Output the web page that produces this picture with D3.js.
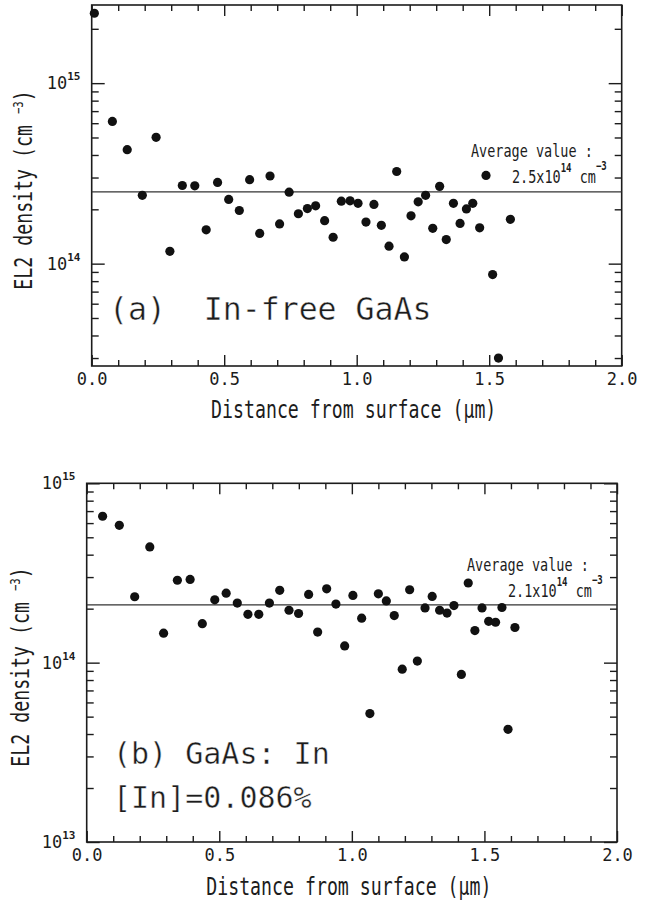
<!DOCTYPE html>
<html>
<head>
<meta charset="utf-8">
<script src="https://cdn.jsdelivr.net/npm/d3@7"></script>
<style>
  body { margin: 0; background: #fff; }
  svg { display: block; }
  text { font-family: "DejaVu Sans Mono", monospace; fill: #1c1c1c; }
</style>
</head>
<body>
<script>
// (a) In-free GaAs : depth (um) / EL2 density (cm-3)
const depthA = [0.01, 0.078, 0.134, 0.191, 0.243, 0.295, 0.342, 0.389, 0.432, 0.475,
  0.517, 0.557, 0.596, 0.634, 0.673, 0.709, 0.745, 0.780, 0.814, 0.845,
  0.879, 0.911, 0.942, 0.975, 1.005, 1.035, 1.065, 1.093, 1.122, 1.151,
  1.180, 1.205, 1.232, 1.260, 1.287, 1.313, 1.338, 1.365, 1.390, 1.414,
  1.438, 1.464, 1.488, 1.513, 1.535, 1.580]
const densityA = [2.44e15, 6.14e14, 4.28e14, 2.39e14, 5.01e14, 1.17e14, 2.71e14, 2.70e14, 1.54e14, 2.82e14,
  2.27e14, 1.97e14, 2.92e14, 1.47e14, 3.06e14, 1.66e14, 2.49e14, 1.89e14, 2.02e14, 2.09e14,
  1.73e14, 1.40e14, 2.22e14, 2.23e14, 2.16e14, 1.70e14, 2.13e14, 1.63e14, 1.25e14, 3.24e14,
  1.09e14, 1.84e14, 2.20e14, 2.39e14, 1.57e14, 2.68e14, 1.36e14, 2.16e14, 1.67e14, 2.01e14,
  2.16e14, 1.58e14, 3.08e14, 8.7e13, 3.0e13, 1.76e14]
const averageA = 2.5e14

// (b) GaAs:In
const depthB = [0.060, 0.123, 0.181, 0.238, 0.290, 0.342, 0.390, 0.436, 0.483, 0.526,
  0.568, 0.608, 0.649, 0.689, 0.728, 0.763, 0.799, 0.837, 0.871, 0.905,
  0.940, 0.973, 1.004, 1.037, 1.068, 1.100, 1.130, 1.160, 1.190, 1.218,
  1.247, 1.276, 1.303, 1.331, 1.359, 1.385, 1.413, 1.439, 1.464, 1.491,
  1.516, 1.542, 1.566, 1.589, 1.615]
const densityB = [6.55e14, 5.83e14, 2.33e14, 4.42e14, 1.46e14, 2.88e14, 2.91e14, 1.65e14, 2.24e14, 2.44e14,
  2.15e14, 1.86e14, 1.86e14, 2.15e14, 2.53e14, 1.96e14, 1.88e14, 2.40e14, 1.48e14, 2.58e14,
  2.12e14, 1.24e14, 2.37e14, 1.77e14, 5.2e13, 2.42e14, 2.21e14, 1.83e14, 9.2e13, 2.55e14,
  1.02e14, 2.02e14, 2.34e14, 1.96e14, 1.89e14, 2.08e14, 8.6e13, 2.78e14, 1.51e14, 2.02e14,
  1.70e14, 1.68e14, 2.03e14, 4.25e13, 1.57e14]
const averageB = 2.1e14

const xTicks = [0, 0.5, 1.0, 1.5, 2.0]
const xTickLabels = ["0.0", "0.5", "1.0", "1.5", "2.0"]
const xTitle = "Distance from surface (\u03bcm)"

const width = 651
const height = 902

const svg = d3.select("body").append("svg")
  .attr("width", width)
  .attr("height", height)

const ink = "#1c1c1c"

function isDecade(v) {
  const l = Math.log10(v)
  return Math.abs(l - Math.round(l)) < 1e-9
}

function drawPanel(p) {
  const x = d3.scaleLinear().domain([0, 2]).range([p.left, p.right])
  const y = d3.scaleLog().domain(p.yDomain).range([p.bottom, p.top])
  const g = svg.append("g")

  const minorX = d3.range(0, 21).map(i => i / 10).filter(v => Math.round(v * 10) % 5 !== 0)
  const allY = y.ticks()
  const minorY = allY.filter(v => !isDecade(v))
  const majorY = allY.filter(isDecade)

  const noDomain = a => a.select(".domain").remove()
  const styleTicks = a => a.selectAll("line").attr("stroke", ink).attr("stroke-width", 1.4)

  // bottom
  g.append("g").attr("transform", `translate(0,${p.bottom})`)
    .call(d3.axisBottom(x).tickValues(minorX).tickSize(-6).tickFormat(""))
    .call(noDomain).call(styleTicks)
  g.append("g").attr("transform", `translate(0,${p.bottom})`)
    .call(d3.axisBottom(x).tickValues(xTicks).tickSize(-11).tickPadding(7)
      .tickFormat((d, i) => xTickLabels[i]))
    .call(noDomain).call(styleTicks)
    .call(a => a.selectAll("text").attr("font-size", 17).attr("fill", ink)
      .attr("font-family", "DejaVu Sans Mono, monospace"))
  // top
  g.append("g").attr("transform", `translate(0,${p.top})`)
    .call(d3.axisTop(x).tickValues(minorX).tickSize(-6).tickFormat(""))
    .call(noDomain).call(styleTicks)
  g.append("g").attr("transform", `translate(0,${p.top})`)
    .call(d3.axisTop(x).tickValues(xTicks).tickSize(-11).tickFormat(""))
    .call(noDomain).call(styleTicks)
  // left / right
  ;[[d3.axisLeft, p.left], [d3.axisRight, p.right]].forEach(([ax, pos]) => {
    g.append("g").attr("transform", `translate(${pos},0)`)
      .call(ax(y).tickValues(minorY).tickSize(-7).tickFormat(""))
      .call(noDomain).call(styleTicks)
    g.append("g").attr("transform", `translate(${pos},0)`)
      .call(ax(y).tickValues(majorY).tickSize(-13).tickFormat(""))
      .call(noDomain).call(styleTicks)
  })

  // frame
  g.append("rect")
    .attr("x", p.left).attr("y", p.top)
    .attr("width", p.right - p.left).attr("height", p.bottom - p.top)
    .attr("fill", "none").attr("stroke", ink).attr("stroke-width", 1.6)

  // decade labels 10^n
  majorY.forEach(v => {
    const t = g.append("text")
      .attr("x", p.left - 45).attr("y", y(v) + 6)
      .attr("font-size", 17)
    t.append("tspan").text("10")
    t.append("tspan").attr("dy", -9).attr("font-size", 11).attr("font-weight", "bold")
      .text(Math.round(Math.log10(v)))
  })

  // average line
  g.append("line")
    .attr("x1", p.left).attr("x2", p.right)
    .attr("y1", y(p.average)).attr("y2", y(p.average))
    .attr("stroke", "#333").attr("stroke-width", 1.3)

  // points
  g.selectAll("circle.pt")
    .data(d3.zip(p.depth, p.density))
    .join("circle")
    .attr("class", "pt")
    .attr("cx", d => x(d[0]))
    .attr("cy", d => y(d[1]))
    .attr("r", 4.6)
    .attr("fill", "#111")

  // average annotation
  g.append("text")
    .attr("transform", `translate(${p.avgX},${p.avgY}) scale(0.75,1)`)
    .attr("font-size", 18)
    .text("Average value :")
  const v = g.append("text")
    .attr("transform", `translate(${p.avgX + 41},${p.avgY + 26}) scale(0.75,1)`)
    .attr("font-size", 18)
  v.append("tspan").text(p.avgText)
  v.append("tspan").attr("dy", -11).attr("font-size", 12).attr("font-weight", "bold").text("14")
  v.append("tspan").attr("dy", 11).text(" cm")
  v.append("tspan").attr("dy", -13).attr("font-size", 12).attr("font-weight", "bold").text("\u22123")

  // axis titles
  g.append("text")
    .attr("transform", `translate(${(p.left + p.right) / 2 - 3},${p.xTitleY}) scale(0.76,1)`)
    .attr("text-anchor", "middle")
    .attr("font-size", 24)
    .text(xTitle)
  const yt = g.append("text")
    .attr("transform", `translate(${p.yTitleX},${p.yTitleY}) rotate(-90) scale(0.76,1)`)
    .attr("text-anchor", "middle")
    .attr("font-size", 24)
  yt.append("tspan").text("EL2 density (cm ")
  yt.append("tspan").attr("dy", -9).attr("font-size", 14).text("\u22123")
  yt.append("tspan").attr("dy", 9).text(")")

  // panel labels
  p.labels.forEach(l => {
    g.append("text")
      .attr("x", l.x).attr("y", l.y)
      .attr("font-size", l.size)
      .attr("fill", "#111")
      .attr("stroke", "#fff").attr("stroke-width", 0.4)
      .style("white-space", "pre")
      .text(l.text)
  })
}

drawPanel({
  left: 91.7, right: 621.7, top: 5, bottom: 366,
  yDomain: [2.71e13, 2.71e15],
  depth: depthA, density: densityA, average: averageA,
  avgX: 471, avgY: 157, avgText: "2.5x10",
  xTitleY: 418, yTitleX: 32, yTitleY: 190,
  labels: [{ x: 109, y: 320, size: 31.5, text: "(a)  In-free GaAs" }]
})

drawPanel({
  left: 86.7, right: 617, top: 483.3, bottom: 842,
  yDomain: [1e13, 1e15],
  depth: depthB, density: densityB, average: averageB,
  avgX: 467, avgY: 571, avgText: "2.1x10",
  xTitleY: 895, yTitleX: 29, yTitleY: 667,
  labels: [{ x: 113, y: 764, size: 30, text: "(b) GaAs: In" }, { x: 113, y: 808, size: 30, text: "[In]=0.086%" }]
})
</script>
</body>
</html>
